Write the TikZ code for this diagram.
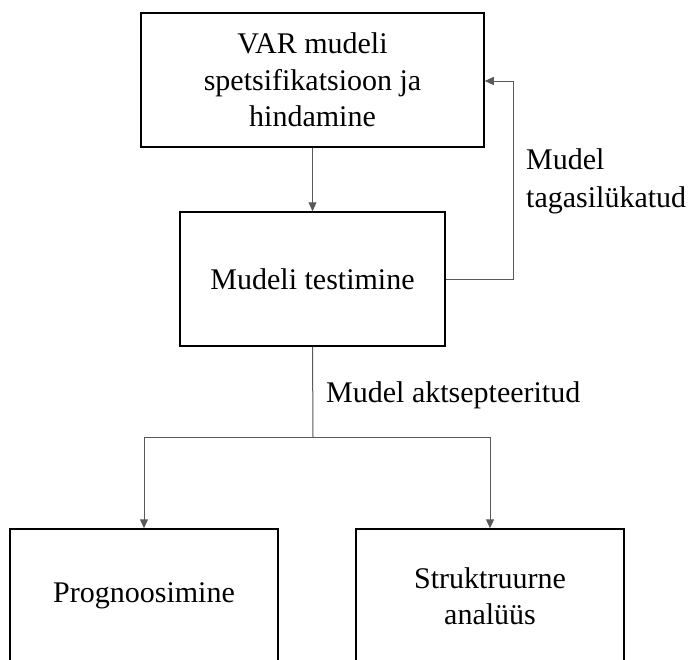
\documentclass[tikz,border=0pt]{standalone}
\usepackage{fontspec}
\setmainfont{Liberation Serif}
\usetikzlibrary{arrows.meta}
\begin{document}
\begin{tikzpicture}[x=1pt,y=-1pt,
  box/.style={draw=black, line width=1.5pt, minimum height=134pt, inner sep=0pt,
    align=center, font=\fontsize{30}{36.5}\selectfont},
  link/.style={draw=black!65, line width=1pt},
  conn/.style={link, -{Triangle[length=9pt,width=8pt]}},
  lbl/.style={font=\fontsize{30}{38}\selectfont, align=left, inner sep=0pt}]
\useasboundingbox (0,0) rectangle (688,659);
\node[box, minimum width=343pt] (spec) at (312.5,80) {VAR mudeli\\spetsifikatsioon ja\\hindamine};
\node[box, minimum width=265pt] (test) at (312.5,279) {Mudeli testimine};
\node[box, minimum width=268pt] (prog) at (144,596) {Prognoosimine};
\node[box, minimum width=268pt] (struk) at (490,596) {Struktruurne\\analüüs};
\coordinate (fb) at (513,81);
\coordinate (split) at (313,437);
\draw[conn] (spec.south) -- (test.north);
\draw[conn] (test.east) -| (fb) -- (spec.east |- fb);
\draw[link] (test.south) -- (split);
\draw[conn] (split) -| (prog.north);
\draw[conn] (split) -| (struk.north);
\node[lbl, anchor=west] (rej) at (526,181) {Mudel\\tagasilükatud};
\node[lbl, anchor=west] (acc) at (326,395) {Mudel aktsepteeritud};
\end{tikzpicture}
\end{document}
